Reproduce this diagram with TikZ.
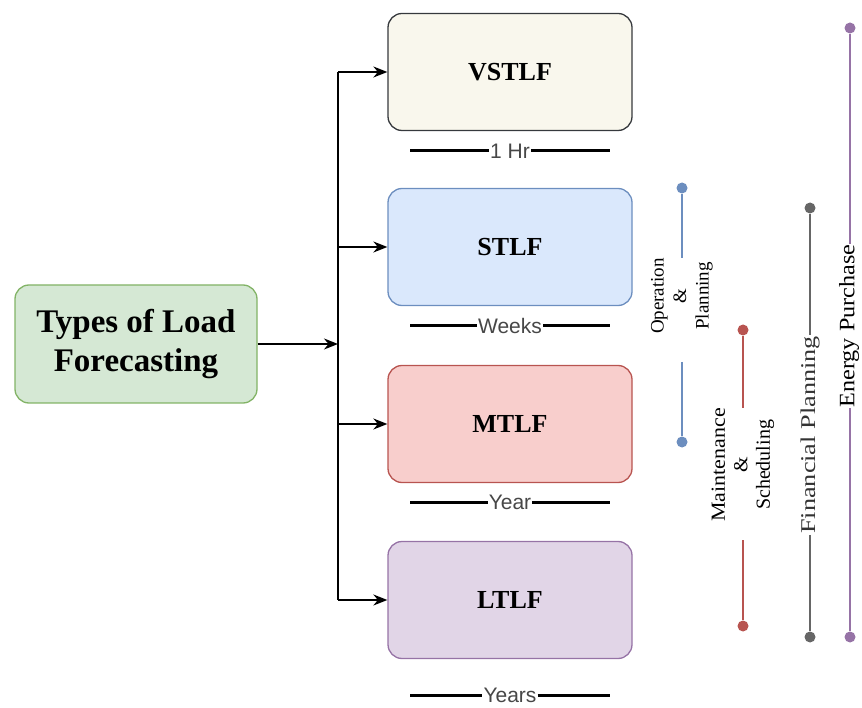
\documentclass[tikz,border=0pt]{standalone}
\usepackage{fontspec}
\usepackage{graphicx}
\setmainfont{Liberation Serif}
\setsansfont{Liberation Sans}
\usepackage{tikz}
\usetikzlibrary{arrows.meta, positioning}
\definecolor{typesgreen}{HTML}{D5E8D4}
\definecolor{typesgreenline}{HTML}{82B366}
\definecolor{vstlfcream}{HTML}{F9F7ED}
\definecolor{vstlfline}{HTML}{36393D}
\definecolor{stlfblue}{HTML}{DAE8FC}
\definecolor{stlfline}{HTML}{6C8EBF}
\definecolor{mtlfred}{HTML}{F8CECC}
\definecolor{mtlfline}{HTML}{B85450}
\definecolor{ltlfpurple}{HTML}{E1D5E7}
\definecolor{ltlfline}{HTML}{9673A6}
\definecolor{financegray}{HTML}{666666}

\begin{document}
\begin{tikzpicture}[x=1pt, y=-1pt, >={Stealth[length=14pt, width=11pt]},
    typebox/.style={draw, rounded corners=14pt, minimum width=244pt, minimum height=117pt, line width=1.3pt, font=\fontsize{26}{30}\selectfont\bfseries},
    spanline/.style={line width=3pt},
    spanlabel/.style={fill=white, inner xsep=1pt, inner ysep=0pt, text=black!72, font=\sffamily\fontsize{21}{24}\selectfont},
    useline/.style={line width=1.8pt},
    usedot/.style={circle, inner sep=0pt, minimum size=11pt},
    uselabel/.style={rotate=90, align=center, fill=white, inner xsep=1pt, inner ysep=0pt, font=\fontsize{19}{22.5}\selectfont}]

    \useasboundingbox (0,0) rectangle (862,708);

    % left box and the bus
    \node[draw=typesgreenline, fill=typesgreen, rounded corners=14pt, minimum width=242pt, minimum height=118pt, line width=1.3pt, align=center, font=\fontsize{33}{39}\selectfont\bfseries] (types) at (136,344) {Types of Load\\Forecasting};

    \node[typebox, draw=vstlfline, fill=vstlfcream] (vstlf) at (510,72) {VSTLF};
    \node[typebox, draw=stlfline, fill=stlfblue] (stlf) at (510,247) {STLF};
    \node[typebox, draw=mtlfline, fill=mtlfred] (mtlf) at (510,424) {MTLF};
    \node[typebox, draw=ltlfline, fill=ltlfpurple] (ltlf) at (510,600) {LTLF};

    \coordinate (bustop) at (338,72);
    \coordinate (busbot) at (338,600);
    \coordinate (busmid) at (338,344);
    \draw[line width=1.8pt] (bustop) -- (busbot);
    \draw[->, line width=1.8pt] (types) -- (busmid);
    \foreach \b in {vstlf,stlf,mtlf,ltlf}
        \draw[->, line width=1.8pt] (\b -| bustop) -- (\b);

    % time spans
    \foreach \n/\y/\t in {hr/151/1 Hr, weeks/326/Weeks, year/502/Year, years/695/Years} {
        \node[spanlabel] (\n) at (510,\y) {\t};
        \coordinate (\n l) at (410,\y);
        \coordinate (\n r) at (610,\y);
        \draw[spanline] (\n l) -- (\n);
        \draw[spanline] (\n) -- (\n r);
    }

    % uses on the right
    \node[usedot, fill=stlfline] (optop) at (682,188) {};
    \node[usedot, fill=stlfline] (opbot) at (682,442) {};
    \coordinate (opgapa) at (682,258);
    \coordinate (opgapb) at (682,362);
    \node[uselabel] (oplab) at (682,296) {Operation\\\&\\Planning};
    \draw[useline, stlfline] (optop) -- (opgapa);
    \draw[useline, stlfline] (opgapb) -- (opbot);

    \node[usedot, fill=mtlfline] (mstop) at (743,330) {};
    \node[usedot, fill=mtlfline] (msbot) at (743,626) {};
    \coordinate (msgapa) at (743,408);
    \coordinate (msgapb) at (743,540);
    \node[uselabel, font=\fontsize{20}{22.5}\selectfont] (mslab) at (743,465) {\scalebox{1.1}[1]{Maintenance}\\\&\\Scheduling};
    \draw[useline, mtlfline] (mstop) -- (msgapa);
    \draw[useline, mtlfline] (msgapb) -- (msbot);

    \node[usedot, fill=financegray] (fptop) at (810,208) {};
    \node[usedot, fill=financegray] (fpbot) at (810,637) {};
    \node[uselabel, text=black!80, font=\fontsize{21}{24}\selectfont] (fplab) at (810,435) {\scalebox{1.25}[1]{Financial Planning}};
    \draw[useline, financegray] (fptop) -- (fplab) -- (fpbot);

    \node[usedot, fill=ltlfline] (eptop) at (850,28) {};
    \node[usedot, fill=ltlfline] (epbot) at (850,637) {};
    \draw[useline, ltlfline] (eptop) -- (epbot);
    \node[uselabel, font=\fontsize{22}{26}\selectfont] (eplab) at (849,326) {\scalebox{1.1}[1]{Energy Purchase}};
\end{tikzpicture}
\end{document}
